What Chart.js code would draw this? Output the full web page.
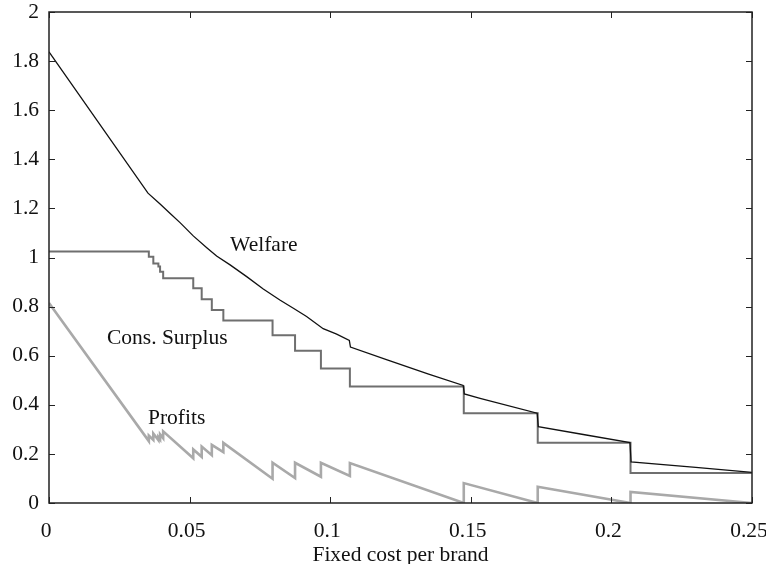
<!DOCTYPE html>
<html>
<head>
<meta charset="utf-8">
<script src="https://cdn.jsdelivr.net/npm/chart.js@4.4.0/dist/chart.umd.min.js"></script>
<style>
  html, body { margin: 0; padding: 0; background: #fff; }
  #wrap { width: 766px; height: 564px; }
</style>
</head>
<body>
<div id="wrap"><canvas id="chart" width="766" height="564"></canvas></div>
<script>
// Values

const xTicks = [0, 0.05, 0.1, 0.15, 0.2, 0.25];
const xTickLabels = ['0', '0.05', '0.1', '0.15', '0.2', '0.25'];
const yTicks = [0, 0.2, 0.4, 0.6, 0.8, 1, 1.2, 1.4, 1.6, 1.8, 2];
const yTickLabels = ['0', '0.2', '0.4', '0.6', '0.8', '1', '1.2', '1.4', '1.6', '1.8', '2'];

const welfareX = [0, 0.0352, 0.0395, 0.0430, 0.0466, 0.0513, 0.0561, 0.0596, 0.0644, 0.0703, 0.0762, 0.0821,
                  0.0869, 0.0916, 0.0975, 0.1023, 0.1068, 0.1072, 0.1200, 0.1350, 0.1473, 0.1477, 0.1533,
                  0.1736, 0.1740, 0.1900, 0.2066, 0.2070, 0.2300, 0.2500];
const welfareY = [1.838, 1.262, 1.218, 1.180, 1.142, 1.088, 1.040, 1.006, 0.970, 0.922, 0.872, 0.827,
                  0.793, 0.760, 0.710, 0.688, 0.662, 0.635, 0.584, 0.525, 0.479, 0.444, 0.426,
                  0.366, 0.311, 0.279, 0.246, 0.167, 0.145, 0.125];

// step points: each value holds until the next x
const surplusX = [0, 0.0355, 0.0371, 0.0389, 0.0395, 0.0406, 0.0513, 0.0543, 0.0579, 0.0620,
                  0.0795, 0.0875, 0.0967, 0.1070, 0.1475, 0.1738, 0.2068, 0.25];
const surplusY = [1.024, 1.003, 0.976, 0.963, 0.942, 0.915, 0.875, 0.830, 0.786, 0.743,
                  0.683, 0.620, 0.548, 0.475, 0.366, 0.245, 0.122, 0.122];

const profitX = [0, 0.0355, 0.0355, 0.0371, 0.0371, 0.0389, 0.0389, 0.0395, 0.0395, 0.0406, 0.0406,
                 0.0513, 0.0513, 0.0543, 0.0543, 0.0579, 0.0579, 0.0620, 0.0620, 0.0795, 0.0795,
                 0.0875, 0.0875, 0.0967, 0.0967, 0.1070, 0.1070, 0.1475, 0.1475, 0.1738, 0.1738,
                 0.2068, 0.2068, 0.25];
const profitY = [0.815, 0.252, 0.275, 0.257, 0.283, 0.256, 0.268, 0.259, 0.280, 0.264, 0.292,
                 0.182, 0.218, 0.188, 0.230, 0.195, 0.237, 0.207, 0.245, 0.099, 0.164,
                 0.102, 0.164, 0.107, 0.164, 0.110, 0.163, 0.000, 0.081, 0.000, 0.066,
                 0.000, 0.045, 0.000];

// curve labels, placed in data coordinates
const curveLabels = [
  { text: 'Welfare',       x: 0.0644, y: 1.051 },
  { text: 'Cons. Surplus', x: 0.0206, y: 0.672 },
  { text: 'Profits',       x: 0.0352, y: 0.346 },
];

const FONT = '"Liberation Serif", "Times New Roman", serif';
const FONT_SIZE = 21.5;
const toPoints = (xs, ys) => xs.map((x, i) => ({ x, y: ys[i] }));

// frame + inward ticks on all four sides, plus curve labels
const framePlugin = {
  id: 'frame',
  afterDatasetsDraw(chart) {
    const { ctx, chartArea: a, scales: { x, y } } = chart;
    const len = 6;
    ctx.save();
    ctx.strokeStyle = '#222';
    ctx.lineWidth = 1;
    ctx.beginPath();
    xTicks.forEach(v => {
      const px = Math.round(x.getPixelForValue(v)) + 0.5;
      ctx.moveTo(px, a.bottom); ctx.lineTo(px, a.bottom - len);
      ctx.moveTo(px, a.top);    ctx.lineTo(px, a.top + len);
    });
    yTicks.forEach(v => {
      const py = Math.round(y.getPixelForValue(v)) + 0.5;
      ctx.moveTo(a.left, py);  ctx.lineTo(a.left + len, py);
      ctx.moveTo(a.right, py); ctx.lineTo(a.right - len, py);
    });
    ctx.stroke();
    ctx.lineWidth = 1.5;
    ctx.strokeRect(a.left, a.top, a.right - a.left, a.bottom - a.top);

    ctx.fillStyle = '#111';
    ctx.font = FONT_SIZE + 'px ' + FONT;
    ctx.textAlign = 'left';
    ctx.textBaseline = 'middle';
    curveLabels.forEach(l => {
      ctx.fillText(l.text, x.getPixelForValue(l.x), y.getPixelForValue(l.y));
    });
    ctx.restore();
  }
};

new Chart(document.getElementById('chart'), {
  type: 'line',
  data: {
    datasets: [
      {
        label: 'Welfare',
        data: toPoints(welfareX, welfareY),
        borderColor: '#111',
        borderWidth: 1.3,
        pointRadius: 0,
        tension: 0,
      },
      {
        label: 'Cons. Surplus',
        data: toPoints(surplusX, surplusY),
        borderColor: '#6f6f6f',
        borderWidth: 2,
        pointRadius: 0,
        stepped: true,
      },
      {
        label: 'Profits',
        data: toPoints(profitX, profitY),
        borderColor: '#a9a9a9',
        borderWidth: 2.6,
        pointRadius: 0,
        tension: 0,
      },
    ]
  },
  options: {
    responsive: false,
    animation: false,
    layout: { padding: { top: 12, right: 14, left: 0, bottom: 0 } },
    plugins: {
      legend: { display: false },
      tooltip: { enabled: false },
    },
    scales: {
      x: {
        type: 'linear',
        min: 0,
        max: 0.25,
        grid: { display: false },
        border: { display: false },
        afterBuildTicks: s => { s.ticks = xTicks.map(v => ({ value: v })); },
        afterFit: s => { s.height = 61; s.paddingLeft = 0; s.paddingRight = 0; },
        ticks: {
          padding: 7,
          labelOffset: -3,
          maxRotation: 0,
          color: '#111',
          font: { family: FONT, size: FONT_SIZE },
          callback: (v, i) => xTickLabels[i],
        },
        title: {
          display: true,
          text: 'Fixed cost per brand',
          color: '#111',
          font: { family: FONT, size: FONT_SIZE, lineHeight: 0.8 },
          padding: { top: 0, bottom: 0 },
        },
      },
      y: {
        type: 'linear',
        min: 0,
        max: 2,
        grid: { display: false },
        border: { display: false },
        afterBuildTicks: s => { s.ticks = yTicks.map(v => ({ value: v })); },
        afterFit: s => { s.width = 49; s.paddingTop = 0; s.paddingBottom = 0; },
        ticks: {
          padding: 2,
          color: '#111',
          font: { family: FONT, size: FONT_SIZE },
          callback: (v, i) => yTickLabels[i],
        },
      },
    }
  },
  plugins: [framePlugin],
});
</script>
</body>
</html>
